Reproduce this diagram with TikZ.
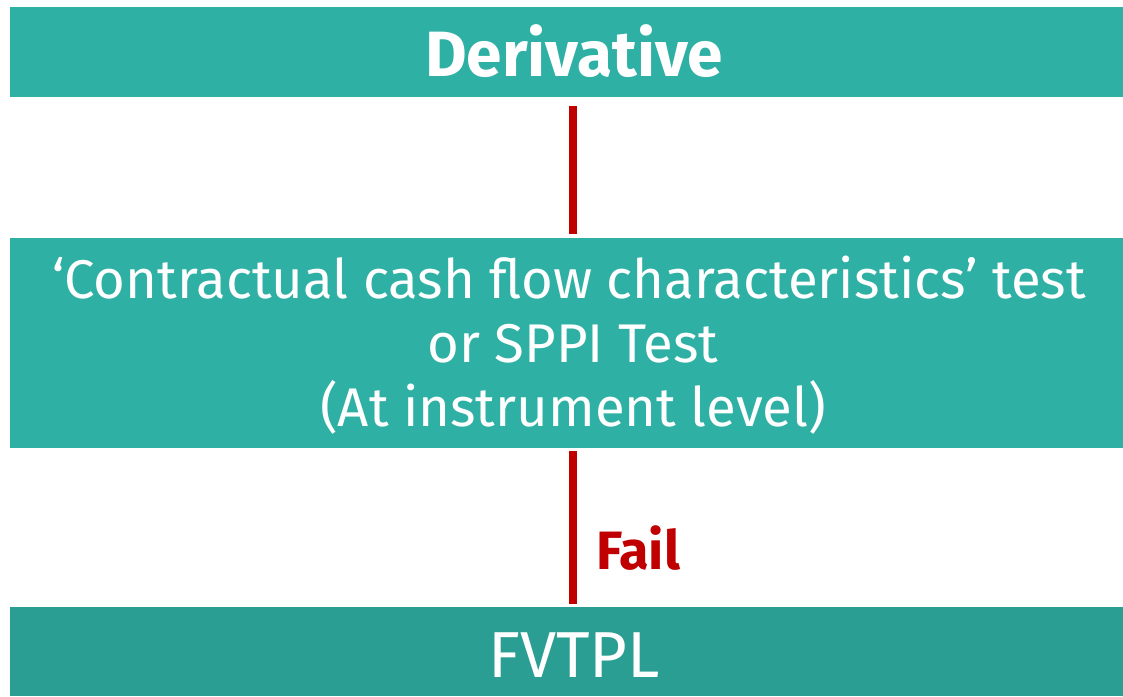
\documentclass[tikz,border=0pt]{standalone}
\usepackage{fontspec}
\setmainfont{Fira Sans}
\definecolor{tealbox}{HTML}{2EB0A4}
\definecolor{tealdark}{HTML}{2A9E93}
\definecolor{failred}{HTML}{C00000}
\tikzset{
  flowbox/.style={rectangle, fill=tealbox, draw=none, inner sep=0pt, anchor=north west},
  boxtext/.style={text=white, anchor=base, inner sep=0pt},
  midfont/.style={font=\fontsize{54.5}{64}\selectfont},
  link/.style={draw=failred, line width=8pt},
}
\begin{document}
\begin{tikzpicture}[x=1pt, y=-1pt]
  \useasboundingbox (0,0) rectangle (1123,696);
  % the three stages
  \node[flowbox, minimum width=1113pt, minimum height=90pt] (deriv) at (10,7) {};
  \node[flowbox, minimum width=1113pt, minimum height=210.5pt] (sppi) at (10,237.5) {};
  \node[flowbox, fill=tealdark, minimum width=1113pt, minimum height=89pt] (fvtpl) at (10,607) {};
  % labels of the stages
  \node[boxtext, font=\fontsize{64}{64}\selectfont\bfseries] (tderiv) at (574,76) {Derivative};
  \node[boxtext, midfont] (tsppi1) at (569,298) {‘Contractual cash flow characteristics’ test};
  \node[boxtext, midfont] (tsppi2) at (573,362) {or SPPI Test};
  \node[boxtext, midfont] (tsppi3) at (573,426) {(At instrument level)};
  \node[boxtext, font=\fontsize{65}{65}\selectfont] (tfvtpl) at (574,677) {FVTPL};
  % connectors
  \draw[link, shorten <=9pt, shorten >=3.5pt] (deriv.south -| 573,0) -- (sppi.north -| 573,0);
  \draw[link, shorten <=3pt, shorten >=3pt] (sppi.south -| 573,0) -- (fvtpl.north -| 573,0);
  \node[anchor=base west, inner sep=0pt, text=failred, font=\fontsize{54}{54}\selectfont\bfseries] (fail) at (596,569) {Fail};
\end{tikzpicture}
\end{document}
